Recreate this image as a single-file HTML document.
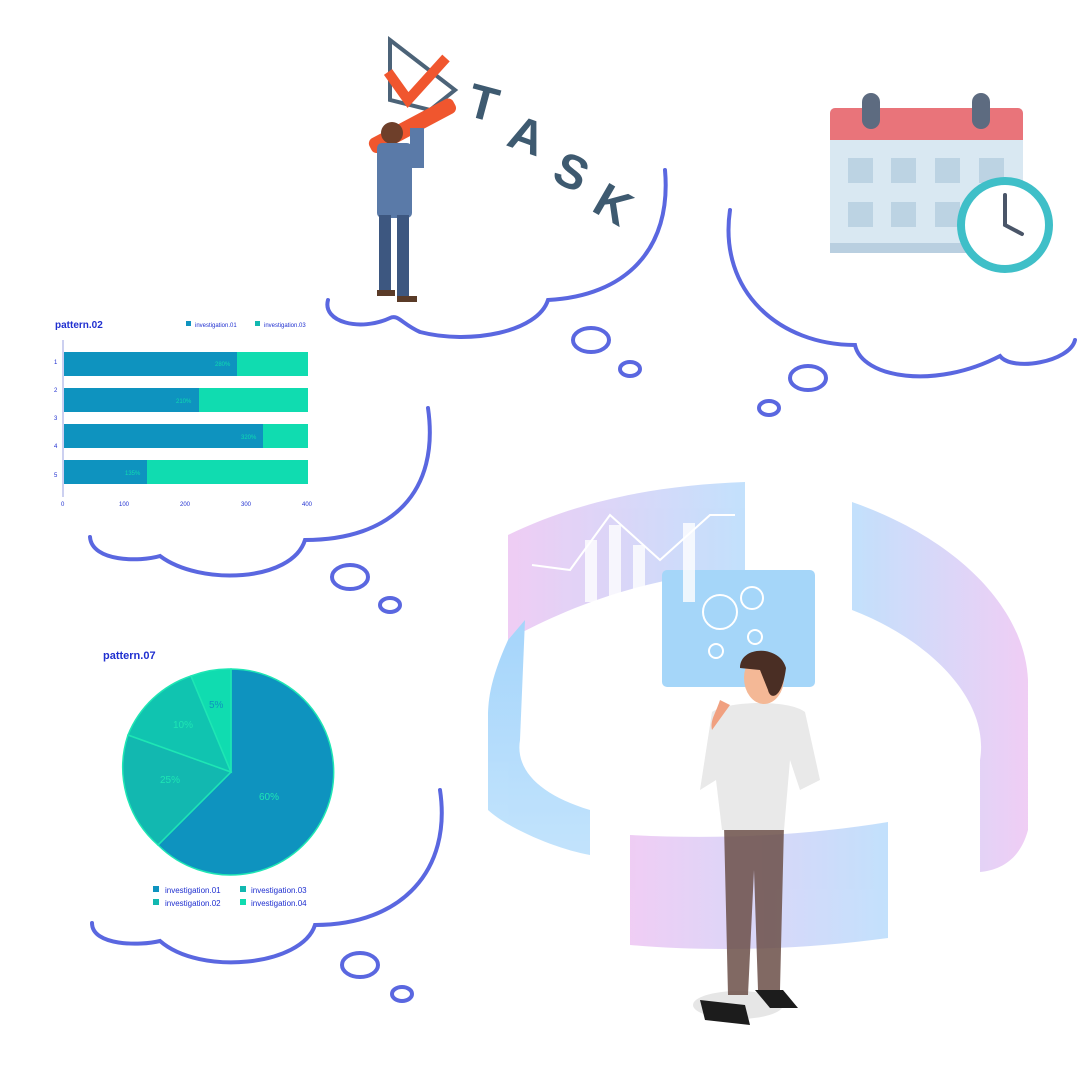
<!DOCTYPE html>
<html><head><style>body{margin:0;background:#fff}svg{display:block}text{font-family:"Liberation Sans",sans-serif}</style></head><body>
<svg width="1080" height="1080" viewBox="0 0 1080 1080" xmlns="http://www.w3.org/2000/svg">
<defs>
<linearGradient id="g1" x1="0" x2="1"><stop offset="0" stop-color="#e9b8f0"/><stop offset="1" stop-color="#a9d4fb"/></linearGradient>
<linearGradient id="g2" x1="0" x2="1"><stop offset="0" stop-color="#a9d4fb"/><stop offset="1" stop-color="#e9b8f0"/></linearGradient>
<linearGradient id="g3" x1="0" x2="0" y1="0" y2="1"><stop offset="0" stop-color="#80c4fa"/><stop offset="1" stop-color="#a9d8fb"/></linearGradient>
</defs>
<g fill="none" stroke="#5a67e0" stroke-width="4" stroke-linecap="round">
<path d="M665,170 C672,250 625,296 548,300 C538,332 470,345 420,332 C402,324 398,314 390,318 C360,332 322,322 328,300"/>
<ellipse cx="591" cy="340" rx="18" ry="12"/><ellipse cx="630" cy="369" rx="10" ry="7"/>
<path d="M730,210 C718,292 780,345 855,345 C862,378 935,390 1000,356 C1012,372 1070,362 1075,340"/>
<ellipse cx="808" cy="378" rx="18" ry="12"/><ellipse cx="769" cy="408" rx="10" ry="7"/>
<path d="M428,408 C440,492 392,540 305,540 C292,582 200,586 160,556 C140,562 92,562 90,537"/>
<ellipse cx="350" cy="577" rx="18" ry="12"/><ellipse cx="390" cy="605" rx="10" ry="7"/>
<path d="M440,790 C452,870 402,925 315,925 C302,966 200,976 160,941 C140,946 92,946 92,923"/>
<ellipse cx="360" cy="965" rx="18" ry="12"/><ellipse cx="402" cy="994" rx="10" ry="7"/>
</g>
<path d="M390,40 L455,90 L430,110 L390,100 Z" fill="none" stroke="#4c6378" stroke-width="4"/>
<path d="M388,72 L408,100 L446,58" fill="none" stroke="#f0562e" stroke-width="10"/>
<g font-weight="bold" fill="#3e5a70" font-size="48">
<text x="465" y="115" transform="rotate(15 465 115)">T</text>
<text x="505" y="145" transform="rotate(20 505 145)">A</text>
<text x="550" y="180" transform="rotate(25 550 180)">S</text>
<text x="590" y="210" transform="rotate(30 590 210)">K</text></g>
<rect x="365" y="118" width="95" height="16" rx="6" fill="#f0562e" transform="rotate(-28 412 126)"/>
<circle cx="392" cy="133" r="11" fill="#6e3f2a"/>
<rect x="377" y="143" width="35" height="75" rx="5" fill="#5a7aa8"/>
<rect x="410" y="128" width="14" height="40" fill="#5a7aa8"/>
<rect x="379" y="215" width="12" height="80" fill="#3d5780"/><rect x="397" y="215" width="12" height="82" fill="#3d5780"/>
<rect x="377" y="290" width="18" height="6" fill="#5a3b28"/><rect x="397" y="296" width="20" height="6" fill="#5a3b28"/>
<rect x="830" y="108" width="193" height="145" rx="5" fill="#d9e8f2"/>
<rect x="830" y="243" width="193" height="10" fill="#b9cfe0"/>
<path d="M835,108 H1018 a5,5 0 0 1 5,5 V140 H830 V113 a5,5 0 0 1 5,-5Z" fill="#e9747a"/>
<rect x="862" y="93" width="18" height="36" rx="9" fill="#5d6b80"/><rect x="972" y="93" width="18" height="36" rx="9" fill="#5d6b80"/>
<g fill="#bcd3e3"><rect x="848" y="158" width="25" height="25"/><rect x="891" y="158" width="25" height="25"/><rect x="935" y="158" width="25" height="25"/><rect x="979" y="158" width="25" height="25"/><rect x="848" y="202" width="25" height="25"/><rect x="891" y="202" width="25" height="25"/><rect x="935" y="202" width="25" height="25"/></g>
<circle cx="1005" cy="225" r="44" fill="#fff" stroke="#3fbfc8" stroke-width="8"/>
<path d="M1005,225 V195 M1005,225 L1022,234" stroke="#4a5568" stroke-width="4" stroke-linecap="round"/>
<text x="55" y="328" font-size="10" font-weight="bold" fill="#2030d0">pattern.02</text>
<rect x="186" y="321" width="5" height="5" fill="#0e93bf"/><text x="195" y="327" font-size="6" fill="#2030d0">investigation.01</text>
<rect x="255" y="321" width="5" height="5" fill="#12b8b0"/><text x="264" y="327" font-size="6" fill="#2030d0">investigation.03</text>
<line x1="63" y1="340" x2="63" y2="497" stroke="#9aa0e0"/>
<g font-size="6" fill="#2030d0">
<rect x="64" y="352" width="173" height="24" fill="#0e93bf"/><rect x="237" y="352" width="71" height="24" fill="#10dcb0"/><text x="215" y="366" fill="#10dcb0">280%</text><text x="54" y="364">1</text>
<rect x="64" y="388" width="135" height="24" fill="#0e93bf"/><rect x="199" y="388" width="109" height="24" fill="#10dcb0"/><text x="176" y="403" fill="#10dcb0">210%</text><text x="54" y="392">2</text>
<text x="54" y="420">3</text>
<rect x="64" y="424" width="199" height="24" fill="#0e93bf"/><rect x="263" y="424" width="45" height="24" fill="#10dcb0"/><text x="241" y="439" fill="#10dcb0">320%</text><text x="54" y="448">4</text>
<rect x="64" y="460" width="83" height="24" fill="#0e93bf"/><rect x="147" y="460" width="161" height="24" fill="#10dcb0"/><text x="125" y="475" fill="#10dcb0">135%</text><text x="54" y="477">5</text>
<text x="61" y="506">0</text><text x="119" y="506">100</text><text x="180" y="506">200</text><text x="241" y="506">300</text><text x="302" y="506">400</text>
</g>
<text x="103" y="659" font-size="11" font-weight="bold" fill="#2030d0">pattern.07</text>
<g stroke="#1ee6b4" stroke-width="1.5">
<path d="M231,772 L231,669 A103,103 0 1 1 158,845 Z" fill="#0e93bf"/>
<path d="M231,772 L158,845 A103,103 0 0 1 128,735 Z" fill="#12b8b0"/>
<path d="M231,772 L128,735 A103,103 0 0 1 191,676 Z" fill="#10c4b0"/>
<path d="M231,772 L191,676 A103,103 0 0 1 231,669 Z" fill="#10dcb0"/>
</g>
<g font-size="10" fill="#1ee6b4"><text x="259" y="800">60%</text><text x="160" y="783">25%</text><text x="173" y="728">10%</text><text x="209" y="708" fill="#0e93bf">5%</text></g>
<g font-size="8" fill="#2030d0">
<rect x="153" y="886" width="6" height="6" fill="#0e93bf"/><text x="165" y="893">investigation.01</text>
<rect x="153" y="899" width="6" height="6" fill="#12b8b0"/><text x="165" y="906">investigation.02</text>
<rect x="240" y="886" width="6" height="6" fill="#12b8b0"/><text x="251" y="893">investigation.03</text>
<rect x="240" y="899" width="6" height="6" fill="#10dcb0"/><text x="251" y="906">investigation.04</text>
</g>
<g opacity="0.7">
<path d="M508,535 C580,500 660,485 745,482 L745,570 C660,575 580,600 508,640 Z" fill="url(#g1)"/>
<path d="M852,502 C960,540 1025,610 1028,680 L1028,830 C1020,860 1000,870 980,872 L980,760 C990,700 930,640 852,610 Z" fill="url(#g2)"/>
<path d="M508,640 C490,680 488,700 488,720 L488,810 C510,830 560,850 590,855 L590,810 C540,795 515,770 520,740 L525,620 Z" fill="url(#g3)"/>
<path d="M630,835 C720,840 810,835 888,822 L888,938 C800,950 710,952 630,945 Z" fill="url(#g1)"/>
<rect x="662" y="570" width="153" height="117" rx="5" fill="#7fc6f7"/>
</g>
<g fill="#fff" opacity="0.8"><rect x="585" y="540" width="12" height="62"/><rect x="609" y="525" width="12" height="77"/><rect x="633" y="545" width="12" height="57"/><rect x="683" y="523" width="12" height="79"/></g>
<g fill="none" stroke="#fff" stroke-width="2"><circle cx="720" cy="612" r="17"/><circle cx="752" cy="598" r="11"/><circle cx="755" cy="637" r="7"/><circle cx="716" cy="651" r="7"/><path d="M532,565 L570,570 L610,515 L660,560 L710,515 L735,515"/></g>
<ellipse cx="738" cy="1005" rx="45" ry="14" fill="#e6e6e6"/>
<path d="M724,825 H784 L780,990 H758 L754,870 L748,995 H728 Z" fill="#6b4f48" opacity="0.85"/>
<path d="M700,1000 l45,5 l5,20 l-45,-5 Z M755,990 l28,0 l15,18 l-28,0 Z" fill="#1c1c1c"/>
<path d="M712,712 C730,700 790,700 805,712 L820,780 L800,790 L790,760 L784,830 L722,830 L716,780 L700,790 Z" fill="#e9e9e9"/>
<path d="M720,700 C715,715 710,720 712,730 L730,705Z" fill="#f0a080"/>
<ellipse cx="764" cy="678" rx="20" ry="26" fill="#f4b896"/>
<path d="M740,668 C740,645 780,645 786,668 C782,700 770,700 768,690 L760,670 Z" fill="#4a2e24"/>
</svg>
</body></html>
